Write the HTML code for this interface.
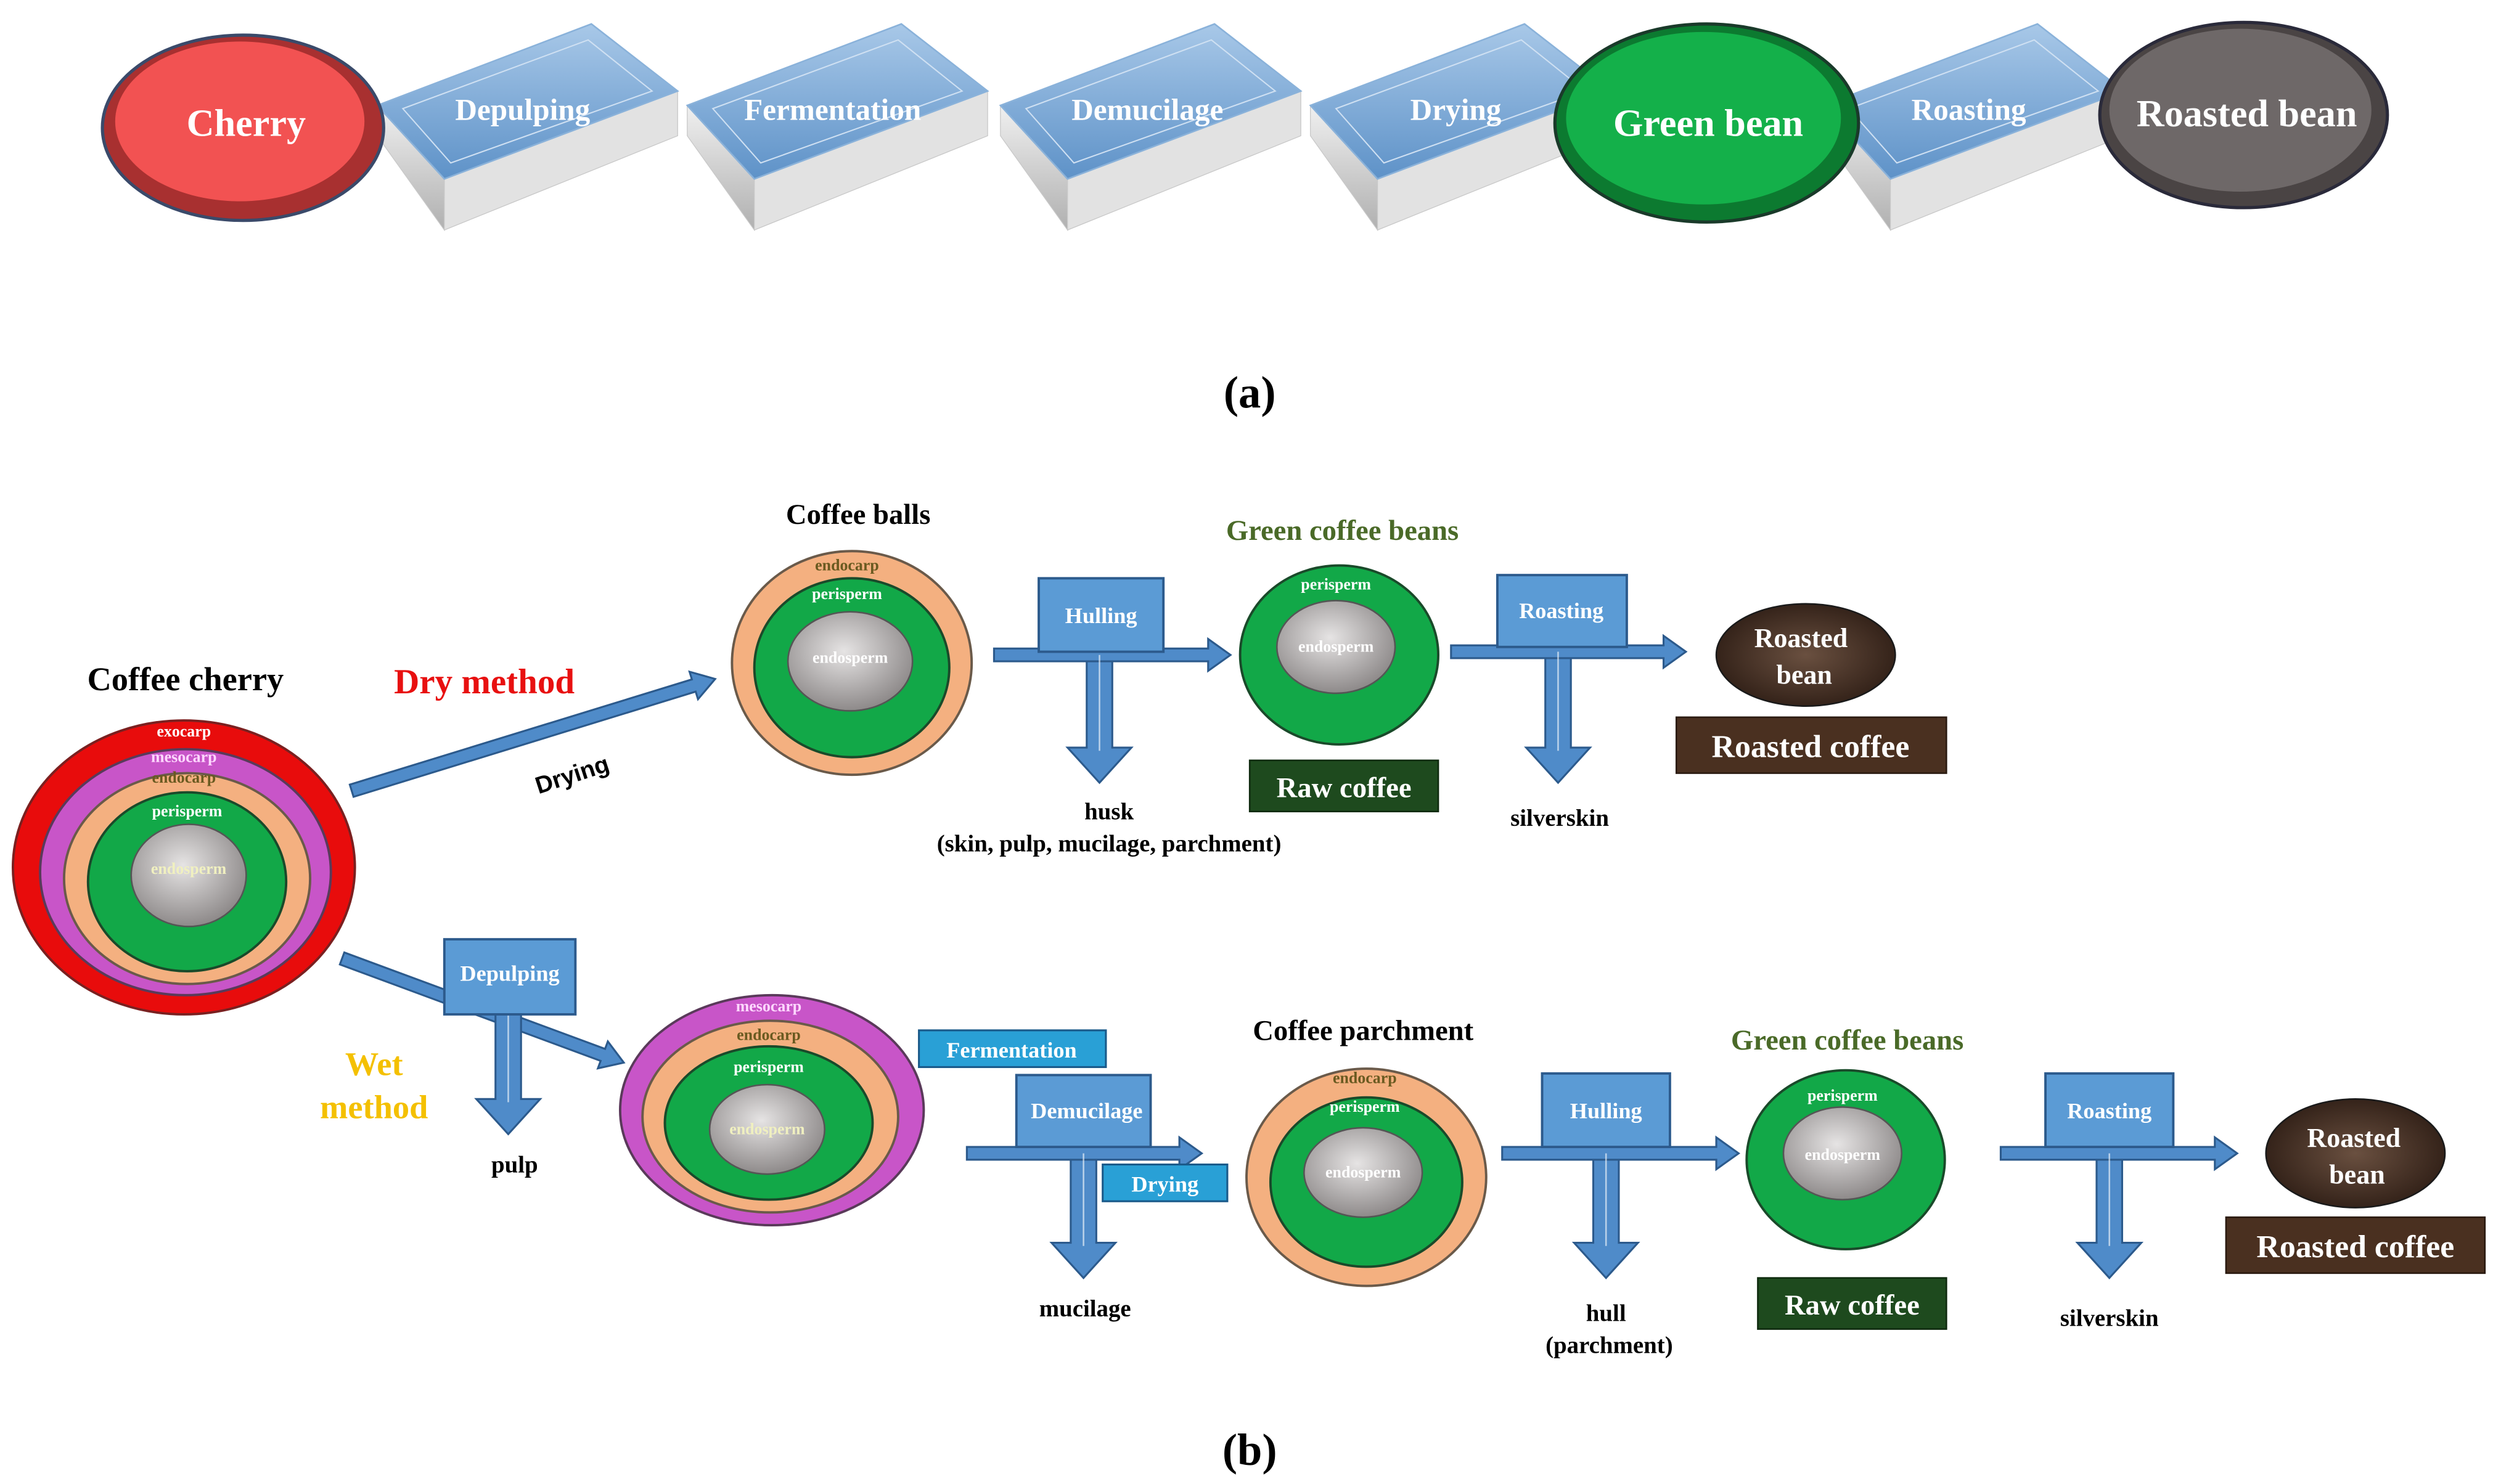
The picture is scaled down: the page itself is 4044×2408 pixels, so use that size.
<!DOCTYPE html>
<html><head><meta charset="utf-8"><style>
html,body{margin:0;padding:0;background:#fff;}
svg{display:block;}
text{font-family:"Liberation Serif",serif;}
</style></head><body>
<svg width="4044" height="2408" viewBox="0 0 1560 929" xmlns="http://www.w3.org/2000/svg">
<defs>
<radialGradient id="gr" cx="0.45" cy="0.4" r="0.6"><stop offset="0" stop-color="#e6e4e4"/><stop offset="1" stop-color="#8e8a8a"/></radialGradient>
<radialGradient id="rb" cx="0.5" cy="0.5" r="0.6"><stop offset="0" stop-color="#6a5040"/><stop offset="1" stop-color="#2a1a12"/></radialGradient>
<linearGradient id="bl" x1="0" y1="0" x2="0" y2="1"><stop offset="0" stop-color="#a8c8e8"/><stop offset="1" stop-color="#5e92c8"/></linearGradient>
<linearGradient id="gy" x1="0" y1="0" x2="0" y2="1"><stop offset="0" stop-color="#f0f0f0"/><stop offset="1" stop-color="#b0b0b0"/></linearGradient>
<g id="blk">
<polygon points="-94,66 -52,112 -52,144 -94,85" fill="url(#gy)" stroke="#c8c8c8" stroke-width="0.5"/>
<polygon points="-52,112 94,57 94,85 -52,144" fill="#e2e2e2" stroke="#c8c8c8" stroke-width="0.5"/>
<polygon points="-94,66 40,15 94,57 -52,112" fill="url(#bl)" stroke="#8ab2da" stroke-width="1"/>
<polygon points="-78,68 38,25 78,57 -48,102" fill="none" stroke="#cfe0f2" stroke-width="0.8"/>
</g>
</defs>

<!-- (a) -->
<use href="#blk" x="330" y="0"/>
<use href="#blk" x="524" y="0"/>
<use href="#blk" x="720" y="0"/>
<use href="#blk" x="914" y="0"/>
<use href="#blk" x="1235" y="0"/>
<ellipse cx="152" cy="80" rx="88" ry="58" fill="#a83030" stroke="#3a4a6a" stroke-width="2"/>
<ellipse cx="150" cy="76" rx="78" ry="50" fill="#f25252"/>
<ellipse cx="1068" cy="77" rx="95" ry="62" fill="#0c7a30" stroke="#1a3a2a" stroke-width="2"/>
<ellipse cx="1066" cy="74" rx="86" ry="54" fill="#14b04a"/>
<ellipse cx="1404" cy="72" rx="90" ry="58" fill="#4a4444" stroke="#2a2a3a" stroke-width="2"/>
<ellipse cx="1402" cy="69" rx="82" ry="51" fill="#6e6868"/>
<g fill="#fff" font-weight="bold" text-anchor="middle">
<text x="154" y="85" font-size="24">Cherry</text>
<text x="327" y="75" font-size="19">Depulping</text>
<text x="521" y="75" font-size="19">Fermentation</text>
<text x="718" y="75" font-size="19">Demucilage</text>
<text x="911" y="75" font-size="19">Drying</text>
<text x="1069" y="85" font-size="24">Green bean</text>
<text x="1232" y="75" font-size="19">Roasting</text>
<text x="1406" y="79" font-size="24">Roasted bean</text>
</g>
<text x="782" y="255" font-size="28" text-anchor="middle" font-weight="bold">(a)</text>
<text x="782" y="917" font-size="28" text-anchor="middle" font-weight="bold">(b)</text>

<!-- (b) labels -->
<g font-weight="bold" text-anchor="middle">
<text x="116" y="432" font-size="21">Coffee cherry</text>
<text x="303" y="434" font-size="22" fill="#e81010">Dry method</text>
<text x="537" y="328" font-size="18">Coffee balls</text>
<text x="840" y="338" font-size="18" fill="#4a6a28">Green coffee beans</text>
<text x="853" y="651" font-size="18">Coffee parchment</text>
<text x="1156" y="657" font-size="18" fill="#4a6a28">Green coffee beans</text>
<text x="234" y="673" font-size="21" fill="#f4c000">Wet</text>
<text x="234" y="700" font-size="21" fill="#f4c000">method</text>
<text x="694" y="513" font-size="15">husk</text>
<text x="694" y="533" font-size="15">(skin, pulp, mucilage, parchment)</text>
<text x="976" y="517" font-size="15">silverskin</text>
<text x="322" y="734" font-size="15">pulp</text>
<text x="679" y="824" font-size="15">mucilage</text>
<text x="1005" y="827" font-size="15">hull</text>
<text x="1007" y="847" font-size="15">(parchment)</text>
<text x="1320" y="830" font-size="15">silverskin</text>
</g>

<!-- cherry -->
<ellipse cx="115" cy="543" rx="107" ry="92" fill="#e80c0c" stroke="#7a2020" stroke-width="1.5"/>
<ellipse cx="116" cy="546" rx="91" ry="77" fill="#c855c8" stroke="#5a3a5a" stroke-width="1.5"/>
<ellipse cx="117" cy="550" rx="77" ry="66" fill="#f4b080" stroke="#6a5a4a" stroke-width="1.5"/>
<ellipse cx="117" cy="552" rx="62" ry="56" fill="#12a848" stroke="#1a4a2a" stroke-width="1.5"/>
<ellipse cx="118" cy="548" rx="36" ry="32" fill="url(#gr)" stroke="#555" stroke-width="1"/>
<g font-size="10" text-anchor="middle" font-weight="bold">
<text x="115" y="461" fill="#fff">exocarp</text>
<text x="115" y="477" fill="#ffd8ff">mesocarp</text>
<text x="115" y="490" fill="#6a5a20">endocarp</text>
<text x="117" y="511" fill="#fff">perisperm</text>
<text x="118" y="547" fill="#f0f0c0">endosperm</text>
</g>

<!-- coffee balls -->
<ellipse cx="533" cy="415" rx="75" ry="70" fill="#f4b080" stroke="#6a5a4a" stroke-width="1.5"/>
<ellipse cx="533" cy="418" rx="61" ry="56" fill="#12a848" stroke="#1a4a2a" stroke-width="1.5"/>
<ellipse cx="532" cy="414" rx="39" ry="31" fill="url(#gr)" stroke="#555"/>
<g font-size="10" text-anchor="middle" font-weight="bold">
<text x="530" y="357" fill="#6a5a20">endocarp</text>
<text x="530" y="375" fill="#fff">perisperm</text>
<text x="532" y="415" fill="#fff">endosperm</text>
</g>
<!-- green bean 1 -->
<ellipse cx="838" cy="410" rx="62" ry="56" fill="#12a848" stroke="#1a4a2a" stroke-width="1.5"/>
<ellipse cx="836" cy="405" rx="37" ry="29" fill="url(#gr)" stroke="#555"/>
<g font-size="10" text-anchor="middle" font-weight="bold" fill="#fff">
<text x="836" y="369">perisperm</text><text x="836" y="408">endosperm</text>
</g>
<!-- wet cherry -->
<ellipse cx="483" cy="695" rx="95" ry="72" fill="#c855c8" stroke="#5a3a5a" stroke-width="1.5"/>
<ellipse cx="482" cy="699" rx="80" ry="60" fill="#f4b080" stroke="#6a5a4a" stroke-width="1.5"/>
<ellipse cx="481" cy="703" rx="65" ry="48" fill="#12a848" stroke="#1a4a2a" stroke-width="1.5"/>
<ellipse cx="480" cy="707" rx="36" ry="28" fill="url(#gr)" stroke="#555"/>
<g font-size="10" text-anchor="middle" font-weight="bold">
<text x="481" y="633" fill="#ffd8ff">mesocarp</text>
<text x="481" y="651" fill="#6a5a20">endocarp</text>
<text x="481" y="671" fill="#fff">perisperm</text>
<text x="480" y="710" fill="#f0f0c0">endosperm</text>
</g>
<!-- parchment -->
<ellipse cx="855" cy="737" rx="75" ry="68" fill="#f4b080" stroke="#6a5a4a" stroke-width="1.5"/>
<ellipse cx="855" cy="740" rx="60" ry="53" fill="#12a848" stroke="#1a4a2a" stroke-width="1.5"/>
<ellipse cx="853" cy="734" rx="37" ry="28" fill="url(#gr)" stroke="#555"/>
<g font-size="10" text-anchor="middle" font-weight="bold">
<text x="854" y="678" fill="#6a5a20">endocarp</text>
<text x="854" y="696" fill="#fff">perisperm</text>
<text x="853" y="737" fill="#fff">endosperm</text>
</g>
<!-- green bean 2 -->
<ellipse cx="1155" cy="726" rx="62" ry="56" fill="#12a848" stroke="#1a4a2a" stroke-width="1.5"/>
<ellipse cx="1153" cy="722" rx="37" ry="29" fill="url(#gr)" stroke="#555"/>
<g font-size="10" text-anchor="middle" font-weight="bold" fill="#fff">
<text x="1153" y="689">perisperm</text><text x="1153" y="726">endosperm</text>
</g>

<!-- arrows -->
<g fill="#4f8bc9" stroke="#2c5a8c" stroke-width="1.2">
<g transform="translate(220,495) rotate(-17.1)"><polygon points="0,-4 224,-4 224,-9 238,0 224,9 224,4 0,4"/></g>
<g transform="translate(214,600) rotate(20.3)"><polygon points="0,-4 174,-4 174,-9 188,0 174,9 174,4 0,4"/></g>
<polygon points="680,405 696,405 696,468 708,468 688,490 668,468 680,468"/>
<polygon points="967,403 983,403 983,468 995,468 975,490 955,468 967,468"/>
<polygon points="310,630 326,630 326,688 338,688 318,710 298,688 310,688"/>
<polygon points="670,716 686,716 686,778 698,778 678,800 658,778 670,778"/>
<polygon points="997,716 1013,716 1013,778 1025,778 1005,800 985,778 997,778"/>
<polygon points="1312,716 1328,716 1328,778 1340,778 1320,800 1300,778 1312,778"/>
<polygon points="622,406 756,406 756,400 770,410 756,420 756,414 622,414"/>
<polygon points="908,404 1041,404 1041,398 1055,408 1041,418 1041,412 908,412"/>
<polygon points="605,718 738,718 738,712 752,722 738,732 738,726 605,726"/>
<polygon points="940,718 1074,718 1074,712 1088,722 1074,732 1074,726 940,726"/>
<polygon points="1252,718 1386,718 1386,712 1400,722 1386,732 1386,726 1252,726"/>
</g>
<g stroke="#fff" stroke-width="1" opacity="0.6">
<line x1="688" y1="410" x2="688" y2="470"/><line x1="975" y1="408" x2="975" y2="470"/>
<line x1="318" y1="635" x2="318" y2="690"/><line x1="678" y1="722" x2="678" y2="780"/>
<line x1="1005" y1="722" x2="1005" y2="780"/><line x1="1320" y1="722" x2="1320" y2="780"/>
</g>

<!-- process boxes -->
<g fill="#5b9bd5" stroke="#2c5a8c" stroke-width="1.5">
<rect x="650" y="362" width="78" height="46"/>
<rect x="937" y="360" width="81" height="45"/>
<rect x="278" y="588" width="82" height="47"/>
<rect x="636" y="673" width="84" height="45"/>
<rect x="965" y="672" width="80" height="46"/>
<rect x="1280" y="672" width="80" height="46"/>
</g>
<g fill="#29a0d6" stroke="#1a5a8a" stroke-width="1.2">
<rect x="575" y="645" width="117" height="23"/>
<rect x="690" y="729" width="78" height="23"/>
</g>
<g fill="#fff" font-size="14" text-anchor="middle" font-weight="bold">
<text x="689" y="390">Hulling</text>
<text x="977" y="387">Roasting</text>
<text x="319" y="614">Depulping</text>
<text x="680" y="700">Demucilage</text>
<text x="1005" y="700">Hulling</text>
<text x="1320" y="700">Roasting</text>
<text x="633" y="662">Fermentation</text>
<text x="729" y="746">Drying</text>
</g>

<!-- raw coffee / roasted -->
<rect x="782" y="476" width="118" height="32" fill="#1e4a1e" stroke="#0e2a0e"/>
<rect x="1100" y="800" width="118" height="32" fill="#1e4a1e" stroke="#0e2a0e"/>
<rect x="1049" y="449" width="169" height="35" fill="#4a3020" stroke="#2a1a10"/>
<rect x="1393" y="762" width="162" height="35" fill="#4a3020" stroke="#2a1a10"/>
<ellipse cx="1130" cy="410" rx="56" ry="32" fill="url(#rb)" stroke="#1a1a1a"/>
<ellipse cx="1474" cy="722" rx="56" ry="34" fill="url(#rb)" stroke="#1a1a1a"/>
<g fill="#fff" text-anchor="middle" font-weight="bold">
<text x="841" y="499" font-size="18">Raw coffee</text>
<text x="1159" y="823" font-size="18">Raw coffee</text>
<text x="1133" y="474" font-size="20">Roasted coffee</text>
<text x="1474" y="787" font-size="20">Roasted coffee</text>
<text x="1127" y="405" font-size="17">Roasted</text>
<text x="1129" y="428" font-size="17">bean</text>
<text x="1473" y="718" font-size="17">Roasted</text>
<text x="1475" y="741" font-size="17">bean</text>
</g>
<text x="358" y="490" font-size="15" font-weight="bold" text-anchor="middle" transform="rotate(-18 358 485)" style="font-family:'Liberation Sans',sans-serif">Drying</text>
</svg>
</body></html>
